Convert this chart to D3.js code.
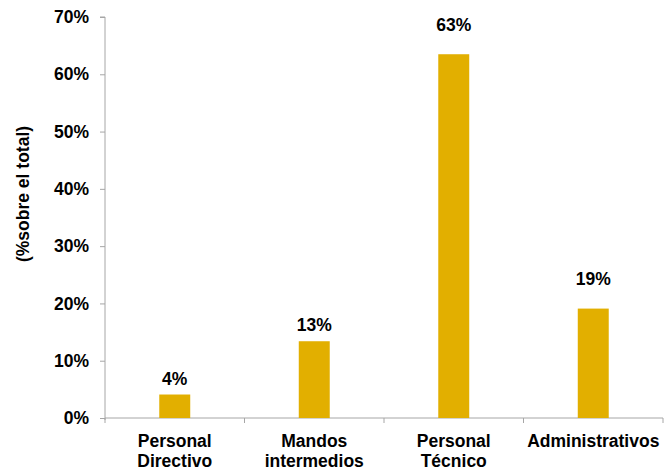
<!DOCTYPE html>
<html>
<head>
<meta charset="utf-8">
<script src="https://cdn.jsdelivr.net/npm/d3@7/dist/d3.min.js"></script>
<style>
  html, body { margin: 0; padding: 0; background: #fff; }
  svg text { font-family: "Liberation Sans", Arial, sans-serif; font-weight: bold; fill: #000; }
</style>
</head>
<body>
<svg id="chart" width="665" height="475"></svg>
<script>
const categories = [["Personal", "Directivo"], ["Mandos", "intermedios"], ["Personal", "Técnico"], ["Administrativos"]];
const values = [4.1, 13.4, 63.5, 19.1];
const valueLabels = ["4%", "13%", "63%", "19%"];
const yTicks = [0, 10, 20, 30, 40, 50, 60, 70];
const yTitle = "(%sobre el total)";

// layout
const plotLeft = 105, plotRight = 663, plotTop = 17, plotBottom = 418;
const fontSize = "17.5px";
const labelGap = [10, 10, 23, 24];
const axisColor = "#a6a6a6";
const barColor = "#e2af00";

const svg = d3.select("#chart");
const keys = categories.map((c, i) => i);

const x = d3.scaleBand().domain(keys).range([plotLeft, plotRight]).padding(0);
const y = d3.scaleLinear().domain([0, 70]).range([plotBottom, plotTop]);

// y axis
const yAxis = d3.axisLeft(y).tickValues(yTicks).tickFormat(d => d + "%").tickSize(5).tickPadding(11);
const gy = svg.append("g").attr("transform", `translate(${plotLeft},0)`).call(yAxis);
gy.select(".domain").attr("stroke", axisColor).attr("d", `M-5,${plotTop}H0V${plotBottom + 2}`);
gy.selectAll(".tick line").attr("stroke", axisColor);
gy.selectAll(".tick text").style("font-size", fontSize).style("font-family", "Liberation Sans, Arial, sans-serif").style("font-weight", "bold").attr("fill", "#000");

// x axis line and boundary ticks
const boundaries = keys.map(k => x(k)).concat([x.range()[1]]);
svg.append("line").attr("x1", plotLeft).attr("x2", plotRight).attr("y1", plotBottom).attr("y2", plotBottom).attr("stroke", axisColor);
svg.selectAll(".xtick").data(boundaries).enter().append("line")
  .attr("x1", d => d).attr("x2", d => d).attr("y1", plotBottom).attr("y2", plotBottom + 5).attr("stroke", axisColor);

// bars
const barFrac = 0.222;
svg.selectAll(".bar").data(values).enter().append("rect")
  .attr("x", (d, i) => x(i) + x.bandwidth() * (1 - barFrac) / 2)
  .attr("width", x.bandwidth() * barFrac)
  .attr("y", d => y(d))
  .attr("height", d => y(0) - y(d))
  .attr("fill", barColor);

// value labels
svg.selectAll(".vl").data(values).enter().append("text")
  .attr("x", (d, i) => x(i) + x.bandwidth() / 2)
  .attr("y", (d, i) => y(d) - labelGap[i])
  .attr("text-anchor", "middle")
  .style("font-size", fontSize)
  .text((d, i) => valueLabels[i]);

// category labels
categories.forEach((lines, i) => {
  const t = svg.append("text")
    .attr("x", x(i) + x.bandwidth() / 2)
    .attr("y", 447)
    .attr("text-anchor", "middle")
    .style("font-size", fontSize);
  lines.forEach((ln, j) => {
    t.append("tspan").attr("x", x(i) + x.bandwidth() / 2).attr("dy", j === 0 ? 0 : 20).text(ln);
  });
});

// y title
svg.append("text")
  .attr("transform", "translate(29,194) rotate(-90)")
  .attr("text-anchor", "middle")
  .style("font-size", fontSize)
  .text(yTitle);
</script>
</body>
</html>
